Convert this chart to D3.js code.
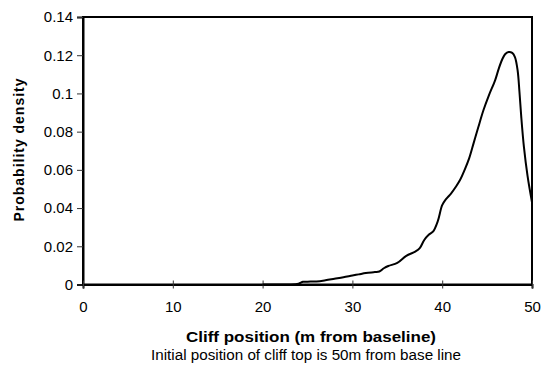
<!DOCTYPE html>
<html>
<head>
<meta charset="utf-8">
<script src="https://cdn.jsdelivr.net/npm/d3@7"></script>
<style>
  html, body { margin: 0; padding: 0; background: #fff; }
  svg { display: block; }
  text { font-family: "Liberation Sans", Arial, sans-serif; fill: #000; }
</style>
</head>
<body>
<svg width="554" height="366"></svg>
<script>
// cliff position (m from baseline)
const positions = [20, 21, 22, 23, 24, 24.5, 25, 26, 27, 28, 29, 30, 30.7, 31.5, 32.5, 33,
	33.5, 34, 35, 36, 37, 37.5, 38, 38.5, 39, 39.5, 40, 40.4, 41, 41.5, 42, 42.5, 43,
	43.5, 44, 44.6, 45.2, 45.9, 46.3, 46.7, 47, 47.4, 47.8, 48.1, 48.4, 48.6, 48.8,
	49.1, 49.5, 50]
// probability density
const density = [0, 0, 0, 0, 0.0004, 0.0014, 0.0015, 0.0016, 0.0022, 0.003, 0.0038, 0.0047,
	0.0053, 0.006, 0.0065, 0.0068, 0.0085, 0.0097, 0.0113, 0.015, 0.0172, 0.019, 0.0233,
	0.026, 0.0278, 0.033, 0.0415, 0.0445, 0.0477, 0.051, 0.0548, 0.06, 0.066, 0.074,
	0.082, 0.0913, 0.099, 0.107, 0.113, 0.118, 0.1205, 0.1217, 0.1212, 0.119, 0.112,
	0.101, 0.088, 0.072, 0.057, 0.043]

const xTicks = [0, 10, 20, 30, 40, 50]
const yTicks = [0, 0.02, 0.04, 0.06, 0.08, 0.1, 0.12, 0.14]
const yTickLabels = ["0", "0.02", "0.04", "0.06", "0.08", "0.1", "0.12", "0.14"]

const xTitle = "Cliff position (m from baseline)"
const yTitle = "Probability density"
const note = "Initial position of cliff top is 50m from base line"

const svg = d3.select("svg")
const plotLeft = 83, plotRight = 532, plotTop = 17, plotBottom = 284.5

const x = d3.scaleLinear().domain([0, 50]).range([plotLeft, plotRight])
const y = d3.scaleLinear().domain([0, 0.14]).range([plotBottom, plotTop])

// plot area border
svg.append("rect")
	.attr("x", plotLeft)
	.attr("y", plotTop)
	.attr("width", plotRight - plotLeft)
	.attr("height", plotBottom - plotTop)
	.attr("fill", "none")
	.attr("stroke", "#000")
	.attr("stroke-width", 2)

// y axis
const yAxis = svg.append("g")
	.attr("transform", `translate(${plotLeft},0)`)
	.call(d3.axisLeft(y)
		.tickValues(yTicks)
		.tickFormat((d, i) => yTickLabels[i])
		.tickSize(6)
		.tickPadding(4))
yAxis.select(".domain").attr("stroke", "#000").attr("stroke-width", 2)
yAxis.selectAll(".tick line").attr("stroke", "#333")
yAxis.selectAll(".tick text")
	.attr("font-size", 15)
	.attr("font-family", "Liberation Sans, Arial, sans-serif")

// x axis (ticks crossing the axis)
const xAxis = svg.append("g")
	.attr("transform", `translate(0,${plotBottom})`)
	.call(d3.axisBottom(x)
		.tickValues(xTicks)
		.tickFormat(d3.format("d"))
		.tickSize(4)
		.tickPadding(13))
xAxis.select(".domain").attr("stroke", "#000").attr("stroke-width", 2)
xAxis.selectAll(".tick line").attr("y1", -4).attr("stroke", "#333")
xAxis.selectAll(".tick text")
	.attr("font-size", 15)
	.attr("font-family", "Liberation Sans, Arial, sans-serif")

// density curve
const points = positions.map((p, i) => [p, density[i]])
const line = d3.line()
	.x(d => x(d[0]))
	.y(d => y(d[1]))
	.curve(d3.curveCatmullRom.alpha(0.5))
svg.append("path")
	.datum(points)
	.attr("d", line)
	.attr("fill", "none")
	.attr("stroke", "#000")
	.attr("stroke-width", 2)
	.attr("stroke-linejoin", "round")

// titles
svg.append("text")
	.attr("transform", `translate(24,150) rotate(-90)`)
	.attr("text-anchor", "middle")
	.attr("font-size", 14)
	.attr("font-weight", "bold")
	.attr("textLength", 143)
	.attr("lengthAdjust", "spacing")
	.text(yTitle)

svg.append("text")
	.attr("x", 311)
	.attr("y", 342)
	.attr("text-anchor", "middle")
	.attr("font-size", 15)
	.attr("font-weight", "bold")
	.attr("textLength", 250)
	.attr("lengthAdjust", "spacingAndGlyphs")
	.text(xTitle)

svg.append("text")
	.attr("x", 306)
	.attr("y", 360)
	.attr("text-anchor", "middle")
	.attr("font-size", 14)
	.attr("textLength", 310)
	.attr("lengthAdjust", "spacingAndGlyphs")
	.text(note)
</script>
</body>
</html>
